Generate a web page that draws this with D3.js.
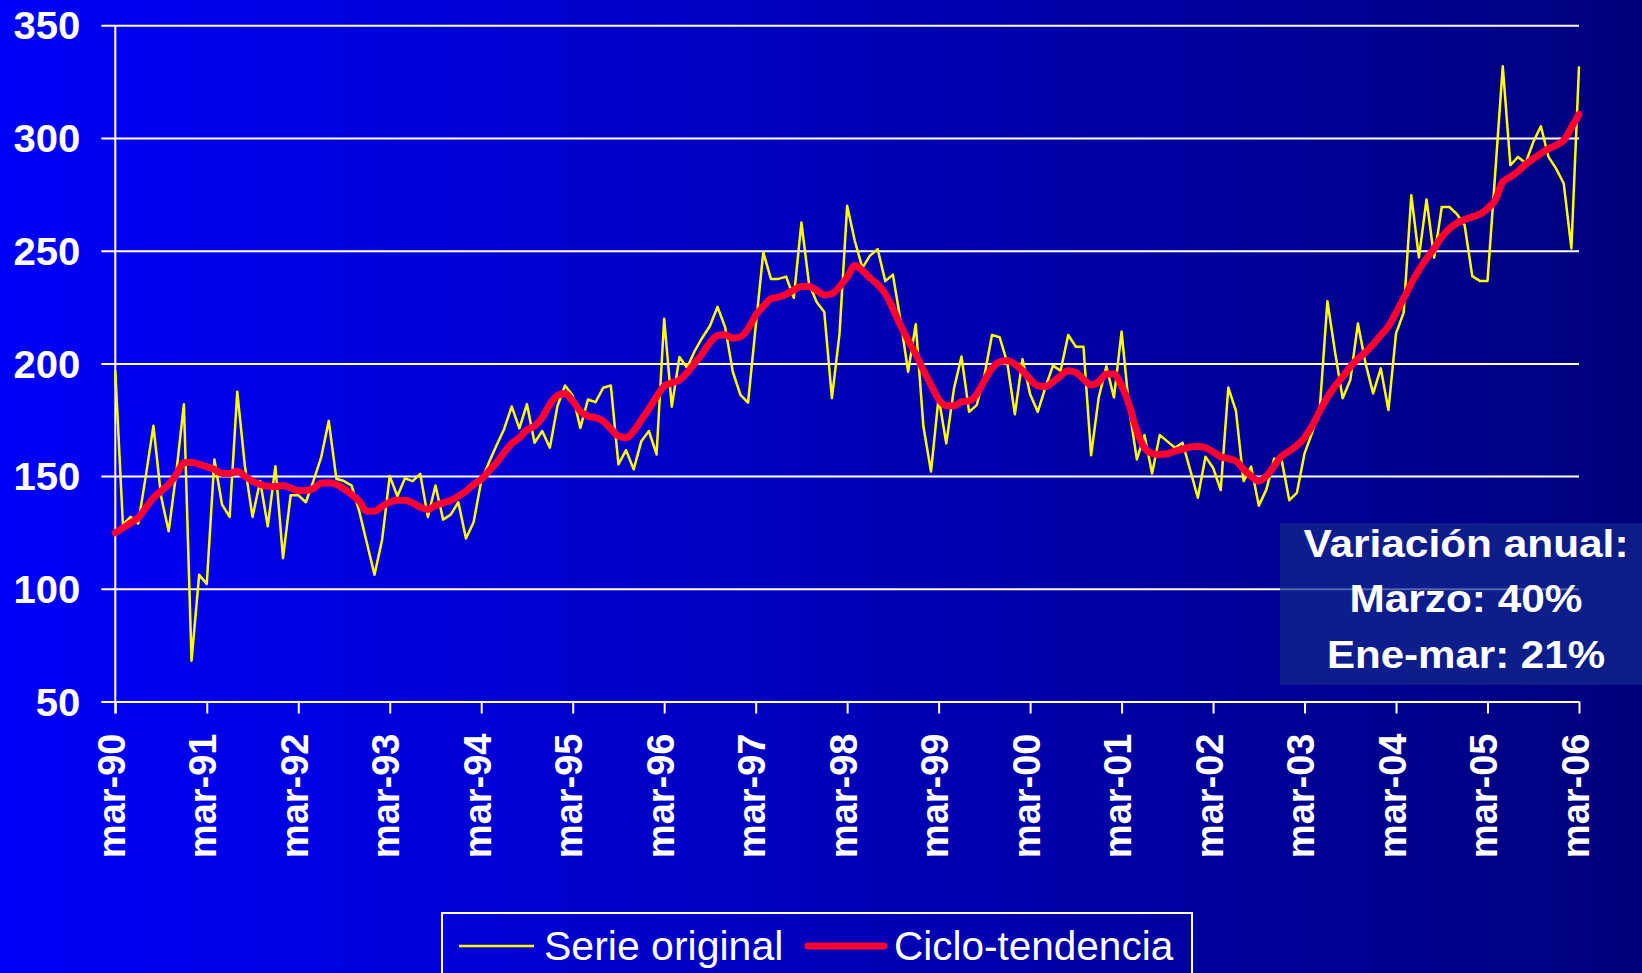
<!DOCTYPE html>
<html>
<head>
<meta charset="utf-8">
<script src="https://cdn.jsdelivr.net/npm/d3@7"></script>
<style>
  html, body { margin: 0; padding: 0; background: #000080; }
  svg { display: block; }
</style>
</head>
<body>
<svg id="chart" width="1642" height="973"></svg>
<script>
// ---- Data (monthly, mar-90 .. mar-06) ----
const tickLabels = ["mar-90","mar-91","mar-92","mar-93","mar-94","mar-95","mar-96","mar-97",
  "mar-98","mar-99","mar-00","mar-01","mar-02","mar-03","mar-04","mar-05","mar-06"];
const yTicks = [50, 100, 150, 200, 250, 300, 350];

const serieOriginal = [
  196.7,128.5,131.9,128.9,150,172.3,141.1,125.5,151.5,181.9,68.1,106.2,
  102.2,157.4,137.4,131.9,187.4,154.4,131.9,147.8,127.7,154.4,113.6,141.5,
  141.5,138.4,148,158.2,174.5,148.8,147.8,145.8,134.4,120.3,106.2,121.8,
  150,141.1,149,147.8,151,131.9,145.8,130.7,132.9,138.4,122.3,129.5,
  147.8,155.9,163.6,170.8,180.9,171.2,181.9,164.8,170,162.6,181.1,190.2,
  185.8,171.4,184,182.8,189.2,190.2,155.2,161.5,153,165.5,170,159.6,
  219.8,180.8,202.8,198.1,205.5,211.4,216.6,225.1,216,196.3,186,182.6,
  216.2,249.3,237.5,237.5,238.5,229.1,262.5,235.3,227.2,222.8,184.6,213.2,
  269.9,254.4,242.4,247.8,250.7,236.5,239.4,219.1,196.3,217.4,172.1,152,
  185,164.5,188.6,203.1,178.5,181.5,194.5,212.6,211.6,200.4,177.4,201.9,
  186.3,178.5,189.3,199,196.7,212.6,207.4,207.4,159.2,184.9,198.7,184.9,
  214.1,179.7,157.4,168.2,151.2,168.2,165.4,162.6,164.8,152.7,140.4,158.6,
  153.7,143.8,189.3,178.9,147.8,154.2,136.9,144.1,157.7,157,139.3,142.6,
  160.1,169.3,180,227.6,205,184.5,192.6,217.7,200,186.7,197.8,179.3,
  213.3,222.5,274.6,247,272.7,247,269.4,269.4,266.2,261.3,238.7,236.6,
  236.6,284,331.8,287.9,291.6,288.9,298.2,305.2,291.6,286.4,279.8,251,
  331.8
];
const cicloTendencia = [
  124.8,127,129.2,131.5,135.9,140.4,143.3,146.3,150.7,155.9,156.2,155.2,
  154.2,153,151.2,151.2,152.2,150,147.8,146.3,145.5,145.3,145.8,144.8,
  143.6,143.6,144.5,146.8,147,146.3,144.4,141.8,138.9,134.4,134.4,136.6,
  138.4,139.3,139.3,138.1,136.2,135.2,136.9,138.1,139.3,141.1,143.3,146.3,
  148.5,152.2,155.9,160.4,164.5,167,170.5,172.2,175.9,181.8,185.8,186.7,
  183.3,178.8,176.6,175.9,174.4,171,167.8,167,170,174.9,179.9,185.2,
  189.9,191.4,192.6,195.9,200,204.3,209.2,212.4,212.7,211.2,211.8,215.4,
  221.3,225.3,228.7,229.4,230.6,232.6,234.1,234.1,232.4,230.4,230.9,234.1,
  238.2,243.4,241.2,237.9,235,230.9,224.3,216.9,210.3,204.1,197.1,190.5,
  184.1,181.2,181.2,182.9,183.4,186.3,192.3,197.8,200.7,201.2,199.7,196.7,
  193,190.1,189.8,191.8,194.5,196.7,196,193,190.4,191.8,195.3,195.3,
  190.1,181.5,170,162.6,160.1,159.6,159.9,161.1,161.9,162.9,163.1,162.6,
  160.7,158.6,157.7,156.7,153,150,147.8,150,154.4,158.9,161.1,163.6,
  167.1,172.3,178.9,184.9,190,194,198.5,202,205,208.5,212.5,216.5,
  222.5,228.8,235.5,241.4,246.5,251,256.1,259.8,262.3,263.8,265,266.2,
  268.7,272.4,280.5,282.7,285.2,288.3,290.8,293.1,295.3,296.8,299,304.6,
  310.5
];
const legendLabels = ["Serie original", "Ciclo-tendencia"];
const noteLines = ["Variación anual:", "Marzo: 40%", "Ene-mar: 21%"];

// ---- Drawing ----
const svg = d3.select("#chart");
const W = 1642, H = 973;
const defs = svg.append("defs");
const grad = defs.append("linearGradient").attr("id", "bg")
  .attr("x1", "0%").attr("y1", "0%").attr("x2", "100%").attr("y2", "0%");
grad.append("stop").attr("offset", "0%").attr("stop-color", "#0000fa");
grad.append("stop").attr("offset", "100%").attr("stop-color", "#00007c");
svg.append("rect").attr("width", W).attr("height", H).attr("fill", "url(#bg)");

const x = d3.scaleLinear().domain([0, serieOriginal.length - 1]).range([115.3, 1579]);
const y = d3.scaleLinear().domain([50, 350]).range([701.5, 25.3]);

const font = "'Liberation Sans', Arial, Helvetica, sans-serif";

// Gridlines + y axis ticks
const yAxis = d3.axisLeft(y).tickValues(yTicks)
  .tickSize(-(1579 - 115.3)).tickSizeOuter(0).tickPadding(0).tickFormat(d3.format("d"));
const gy = svg.append("g").attr("transform", "translate(115.3,0)").call(yAxis);
gy.select(".domain").remove();
gy.selectAll(".tick line").attr("x1", -14).attr("stroke", "#ffffff").attr("stroke-width", 2);
gy.selectAll(".tick text").attr("x", -35).attr("dy", "0.36em")
  .attr("fill", "#ffffff").attr("font-family", font).attr("font-weight", "bold")
  .attr("font-size", 38).attr("text-anchor", "end")
  .attr("textLength", d => String(d).length * 22.3).attr("lengthAdjust", "spacingAndGlyphs");

// Vertical y-axis line
svg.append("line").attr("x1", x(0)).attr("x2", x(0)).attr("y1", y(350)).attr("y2", y(50) + 12)
  .attr("stroke", "#ffffff").attr("stroke-width", 2);

// X axis ticks + labels
const xTickIdx = tickLabels.map((d, i) => i * 12);
const xAxis = d3.axisBottom(x).tickValues(xTickIdx).tickSize(12).tickSizeOuter(0)
  .tickFormat((d, i) => tickLabels[i]);
const gx = svg.append("g").attr("transform", `translate(0,${y(50)})`).call(xAxis);
gx.select(".domain").remove();
gx.selectAll(".tick line").attr("stroke", "#ffffff").attr("stroke-width", 2);
gx.selectAll(".tick text")
  .attr("transform", "translate(9,32) rotate(-90)")
  .attr("x", 0).attr("y", 0).attr("dy", 0)
  .attr("text-anchor", "end")
  .attr("fill", "#ffffff").attr("font-family", font).attr("font-weight", "bold")
  .attr("font-size", 38);

// Lines
const line = d3.line().x((d, i) => x(i)).y(d => y(d));
svg.append("path").datum(serieOriginal).attr("d", line)
  .attr("fill", "none").attr("stroke", "#ffff00").attr("stroke-width", 2.5)
  .attr("stroke-linejoin", "round");
svg.append("path").datum(cicloTendencia).attr("d", line.curve(d3.curveMonotoneX))
  .attr("fill", "none").attr("stroke", "#ff0033").attr("stroke-width", 7)
  .attr("stroke-linejoin", "round").attr("stroke-linecap", "round");

// Annotation box
svg.append("rect").attr("x", 1280).attr("y", 523).attr("width", 362).attr("height", 162)
  .attr("fill", "rgb(18,40,140)").attr("fill-opacity", 0.72);
const noteBase = [557, 612, 668];
const noteWidth = [325, 233, 278];
svg.append("g").selectAll("text").data(noteLines).join("text")
  .attr("x", 1466).attr("y", (d, i) => noteBase[i])
  .attr("text-anchor", "middle").attr("fill", "#ffffff")
  .attr("font-family", font).attr("font-weight", "bold").attr("font-size", 39)
  .attr("textLength", (d, i) => noteWidth[i]).attr("lengthAdjust", "spacingAndGlyphs")
  .text(d => d);

// Legend
svg.append("rect").attr("x", 442).attr("y", 913).attr("width", 750).attr("height", 80)
  .attr("fill", "none").attr("stroke", "#ffffff").attr("stroke-width", 2);
const lg = svg.append("g");
lg.append("line").attr("x1", 459).attr("x2", 534).attr("y1", 946).attr("y2", 946)
  .attr("stroke", "#ffff00").attr("stroke-width", 2.5);
lg.append("text").attr("x", 544).attr("y", 960).attr("fill", "#ffffff")
  .attr("font-family", font).attr("font-size", 41).text(legendLabels[0]);
lg.append("line").attr("x1", 808).attr("x2", 884).attr("y1", 946).attr("y2", 946)
  .attr("stroke", "#ff0033").attr("stroke-width", 7).attr("stroke-linecap", "round");
lg.append("text").attr("x", 894).attr("y", 960).attr("fill", "#ffffff")
  .attr("font-family", font).attr("font-size", 40.5).text(legendLabels[1]);
</script>
</body>
</html>
